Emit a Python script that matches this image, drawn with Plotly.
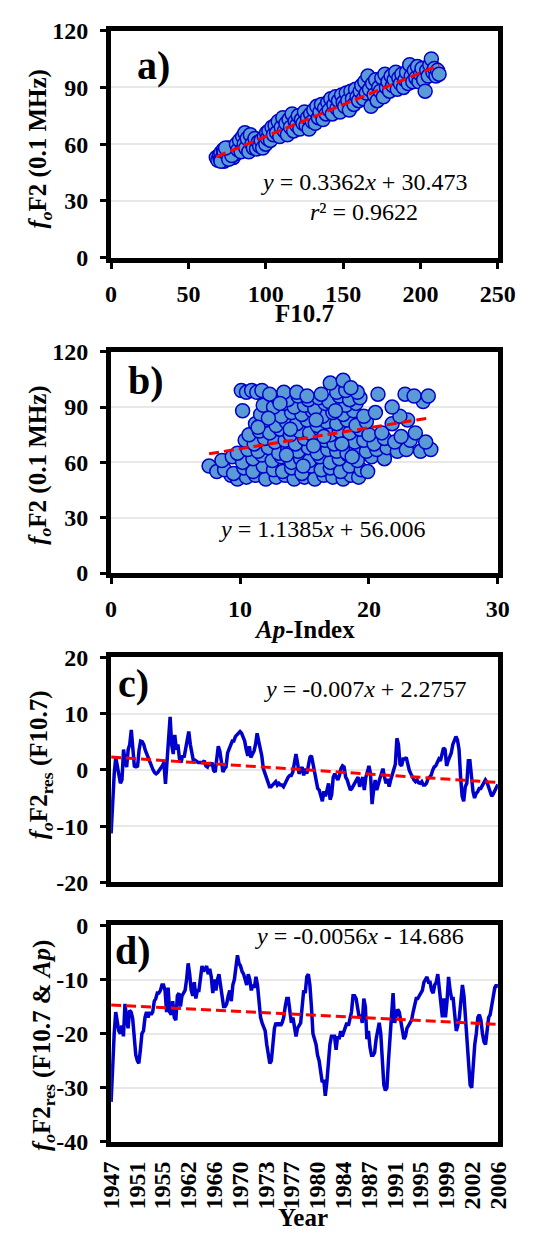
import numpy as np
import plotly.graph_objects as go

W, H = 547, 1241

# ---------------- data ----------------
# Panel a: F10.7 vs foF2
F107_A = [68, 69, 70, 70.5, 71, 72, 72.5, 73, 74, 75, 75.5, 76, 77, 78, 79, 80, 80.5,
          71, 73, 76, 78, 74,
          81, 82, 83, 84, 85, 86, 86.5, 87, 88, 89, 90, 91, 92, 93, 94, 95, 96, 97, 98, 99, 100, 100.5,
          101, 102, 103, 104, 105, 106, 107, 108, 109, 110, 111, 112, 113, 114, 115, 116, 117, 118, 119, 120,
          121, 122, 123, 124, 125, 126, 127, 128, 129, 130,
          131, 132, 133, 134, 135, 136, 137, 138, 139, 140, 141, 142, 143, 144, 145, 146, 147, 148, 149, 150,
          151, 152, 153, 154, 155, 156, 157, 158, 159, 160,
          161, 162, 163, 164, 165, 166, 167, 168, 169, 170, 171, 172, 173, 174, 175, 176, 177, 178, 179, 180,
          181, 182, 183, 184, 185, 186, 187, 188, 189, 190, 191, 192, 193, 194, 195, 196, 197, 198, 199, 200,
          201, 202, 203, 204, 205, 206, 207, 208, 209, 210, 211, 212]
FOF2_A = [53, 51.5, 54, 52, 55.5, 53, 57, 51, 54.5, 56, 52.5, 58, 54, 56.5, 53, 58, 55,
          51, 56, 52, 54, 58,
          60, 57, 62, 56, 64, 60, 66, 58, 63, 56, 65, 60, 58, 63, 57.5, 61, 59, 62, 58, 64, 60, 66,
          63, 67, 62, 69, 65, 70, 66, 72, 64, 69, 74, 67, 71, 65, 73, 69, 76, 67, 72, 70,
          75, 68, 73, 71, 77, 70, 74, 68, 76, 72,
          78, 71, 80, 74, 77, 81, 73, 79, 76, 82, 78, 84, 76, 81, 85, 79, 83, 77, 86, 82,
          80, 87, 83, 78, 88, 84, 81, 89, 85, 83,
          88, 91, 84, 93, 87, 96, 89, 80, 92, 86, 94, 83, 90, 88, 95, 85, 97, 90, 93, 88,
          96, 91, 94, 98, 89, 95, 92, 97, 90, 94, 98, 92, 102, 96, 93, 99, 95, 101, 93, 97,
          100, 94, 88, 99, 96, 102, 105, 98, 100, 96, 99, 97]

# Panel b: Ap-Index vs foF2
AP_B = [9.3, 9.8, 10.5, 11.2, 12.0, 12.8, 13.5, 14.2, 15.0, 15.8, 16.5, 17.2, 18.0, 18.6, 19.2,
        7.6, 8.2, 8.8, 9.5, 10.3, 11.0, 11.8, 12.6, 13.3, 14.0, 14.8, 15.5, 16.3, 17.0, 17.8, 18.5, 19.4, 19.9,
        8.6, 9.4, 10.2, 11.0, 11.7, 12.5, 13.2, 14.0, 14.7, 15.4, 16.2, 17.0, 17.7, 18.4, 19.1, 20.2, 21.2,
        9.8, 10.6, 11.4, 12.2, 13.0, 13.7, 14.5, 15.3, 16.0, 16.8, 17.5, 18.3, 19.0, 19.8, 20.6, 21.4, 22.2, 22.9, 24.0, 24.8,
        10.4, 11.1, 11.9, 12.7, 13.5, 14.3, 15.0, 15.8, 16.6, 17.3, 18.1, 18.9, 19.6, 20.4, 21.2, 22.0, 23.2, 24.4,
        10.7, 11.5, 12.3, 13.1, 13.9, 14.6, 15.4, 16.2, 17.0, 17.7, 18.5, 19.3, 20.0, 21.0, 22.5, 23.6,
        11.2, 12.0, 12.8, 13.6, 14.4, 15.2, 16.0, 16.7, 17.5, 18.3, 19.0, 19.8, 21.8, 23.0,
        11.6, 12.4, 13.2, 14.0, 14.8, 15.6, 16.4, 17.2, 18.0, 18.8, 19.6, 20.5, 22.4,
        10.2, 11.8, 12.6, 13.4, 14.2, 15.0, 15.8, 16.6, 17.4, 18.2, 19.0, 21.8,
        12.9, 13.7, 14.5, 15.3, 16.1, 16.9, 17.7, 18.5, 19.3, 24.2,
        10.1, 10.5, 10.9, 11.3, 11.7, 12.3, 13.4, 14.4, 15.2, 16.3, 17.5, 18.2, 19.1, 20.7, 22.8, 23.5, 24.6,
        17.0, 18.0, 18.6,
        12.2, 13.9, 15.7, 17.4, 14.9, 16.5, 13.1, 18.7, 11.4, 15.9, 17.9, 13.6]
FOF2_B = [53, 51, 52, 53, 51, 52, 53, 51, 52, 51, 53, 52, 51, 53, 52,
          58, 55, 56, 54, 57, 55, 58, 56, 55, 57, 54, 58, 56, 57, 55, 58, 56, 55,
          61, 63, 60, 62, 64, 61, 63, 60, 62, 61, 63, 60, 62, 64, 61, 63, 62,
          65, 67, 66, 68, 65, 67, 66, 68, 65, 67, 66, 65, 68, 66, 67, 68, 66, 67, 66, 67,
          72, 70, 73, 71, 72, 70, 73, 71, 72, 70, 73, 71, 72, 70, 73, 71, 72, 71,
          75, 77, 76, 78, 75, 77, 76, 78, 75, 77, 76, 78, 75, 76, 74, 76,
          81, 83, 80, 82, 81, 83, 80, 82, 81, 83, 80, 82, 81, 83,
          86, 88, 85, 87, 86, 88, 85, 87, 86, 88, 85, 87, 85,
          88, 91, 90, 92, 90, 91, 89, 92, 90, 91, 92, 90,
          95, 94, 96, 94, 95, 93, 96, 94, 95, 93,
          99, 98, 99, 98, 99, 97, 98, 98, 96, 97, 98, 99, 98, 97, 97, 96, 96,
          103, 104.5, 100.5,
          84, 78, 69, 88, 58, 74, 92, 63, 79, 83, 70, 64]

# Panel c: foF2 residual (F10.7), monthly series sampled along the record
RES_C = [-11.3, -4.7, -0.7, 2.2, 0.5, -1.5, -2.4, -1.8, 3.6, 1.6, 0.5, 3.6, 4.5, 7.1, 2.5, 0.5, 0.7, 0.5,
         3.5, 5.1, 5.0, 4.5, 3.5, 2.8, 1.8, 1.3, 0.8, 0.0, -0.5, -0.7, -0.5, -0.2, 0.3, 0.7, 1.3, -2.5,
         1.5, 6.5, 9.4, 4.5, 2.8, 6.2, 3.6, 4.5, 2.0, 1.3, 2.5, 2.2, 3.5, 5.5, 6.8, 4.5, 2.8, 1.6,
         1.7, 1.5, 1.3, 1.3, 1.3, 1.3, 1.6, 0.7, 0.5, 1.3, 0.7, 1.3, -0.1, -0.4, 1.9, 4.2, 3.3, 1.6,
         -0.4, 0.2, 0.5, 3.0, 3.6, 4.5, 5.1, 5.1, 5.9, 6.2, 6.5, 6.8, 6.5, 5.9, 5.1, 3.6, 2.5, 4.2,
         2.2, 2.8, 3.3, 4.5, 6.5, 5.1, 3.9, 2.5, 0.2, -0.7, -1.3, -2.1, -3.0, -3.0, -2.7, -2.4, -2.1,
         -2.7, -2.4, -2.7, -2.7, -3.0, -2.4, -1.8, -1.3, -1.0,
         -1.0, -0.4, 1.6, 2.8, 1.3, -0.7, -0.1, 0.5, -1.0, 0.2, -0.7, 1.0, 2.2, 2.5, 1.0, -0.7, -2.4,
         -3.3, -3.6, -4.4, -5.6, -3.8, -4.7, -3.6, -2.4, -5.3, -4.4, -1.3, -0.7, -1.3, -1.8, -1.0, 0.2,
         0.7, 0.5, -1.3, -1.8, -2.7, -3.6, -3.3, -2.7, -2.4, -1.8, -1.3, -3.0, -2.1, -1.3, -3.6, -1.3,
         -0.4, 0.7, -0.7, -6.1, -3.6, -1.8, -3.6, -2.4, -1.6, -0.7, 0.2, -1.3, -2.4, -1.6, -3.0, -1.8,
         -1.0, -0.1, 1.0, 5.6, 4.5, 1.0, 0.7, 1.9, 1.9, 2.2, 0.7, -0.1, -0.7, -1.3, -1.8, -2.1, -1.8,
         -2.3, -2.4, -2.1, -2.7, -2.7, -2.4, -1.6, -1.3, -1.0, -0.1, 0.5, 0.7, 1.3, 1.9, 1.6, 3.0,
         3.9, 3.6, 0.7, 1.6, 2.2, 3.0, 4.5, 5.3, 5.9, 5.3, 3.6, -1.3, -4.7, -5.6, -3.0, -2.4, 1.6,
         1.6, -1.3, -3.9, -5.0, -4.2, -3.9, -3.3, -3.3, -2.7, -2.4, -1.8,
         -2.2, -3.0, -4.0, -4.7, -4.3, -3.6, -3.0, -2.6]

# Panel d: foF2 residual (F10.7 & Ap)
RES_D = [-32.6, -24.5, -20, -16, -17.8, -19.5, -20, -18.5, -20.5, -14.5, -17, -19, -15.7, -16, -17.2,
         -20.2, -23.9, -25, -25.5, -23, -20, -19.5, -17, -16, -17, -16, -16.5, -16, -14, -13.5, -12.5,
         -12.5, -12, -11, -11, -12, -16, -11.5, -16, -16.5, -14, -17, -17.5, -13, -12.5, -15, -13,
         -12.5, -12, -10, -7, -9, -12, -13, -10.5, -13.5, -12, -12, -9.5, -7.5, -8.5, -8, -7.5, -9,
         -8, -9.5, -12.5, -10, -12, -10, -9, -11, -13, -15, -15, -14.5, -13, -12, -14, -11, -10, -7,
         -5.5, -7, -7.5, -8.5, -9, -10, -11, -9, -10, -12, -11, -11.5, -9.5, -11, -15, -17, -18, -19,
         -19.5, -22, -24, -25.5, -25, -22, -19, -18, -18.5, -18, -18.5, -18, -17, -15, -13.5,
         -13.5, -16, -18, -17, -19, -20.5, -19, -18.5, -18, -15, -12, -12.5, -9.5, -9, -11, -15, -20,
         -21, -22, -24, -25, -27, -29, -28.5, -31.5, -29, -25, -22, -20.5, -20.5, -20.5, -23, -20.5,
         -21, -19.5, -20.5, -19.5, -19, -18, -18.5, -17.5, -16, -13, -13, -13.5, -15, -17, -16.5, -18,
         -13.5, -15, -21, -19.5, -22.5, -24, -24, -23.5, -21, -19, -18, -20, -26, -29.5, -30.5, -30,
         -25, -20, -15, -12.5, -18, -16.5, -15.5, -16, -17.5, -19.5, -21, -20.5, -19, -18.5, -18,
         -17.5, -16, -15, -13.5, -13.5, -13, -12.5, -12, -10.5, -10, -9.5, -10.5, -10.5, -12, -12.5,
         -11, -10.5, -9, -12, -14, -17, -13.5, -17, -14, -9.5, -12, -13.5, -13.5, -17, -19.5, -18.5,
         -17, -14, -11, -13, -17, -22, -26, -29.5, -30, -25, -22, -20, -17, -16.5, -17.5, -20,
         -21.5, -22, -19, -17, -16.5, -15, -13, -11.5, -11, -11.5]

N_MONTHS = 646
TICK_YEARS = ["1947", "1951", "1955", "1962", "1966", "1970", "1973", "1977",
              "1980", "1984", "1987", "1991", "1995", "1999", "2002", "2006"]
TICK_STEP = 43
# y tick values/labels for the residual panels (hyphen-minus as in the source)
YTICKS_C = [-20, -10, 0, 10, 20]
YLABELS_C = ["-20", "-10", "0", "10", "20"]
YTICKS_D = [-40, -30, -20, -10, 0]
YLABELS_D = ["-40", "-30", "-20", "-10", "0"]

# trend line coefficients (slope, intercept) shown on the chart
TREND_A = (0.3362, 30.473)
TREND_B = (1.1385, 56.006)
TREND_C = (-0.007, 2.2757)
TREND_D = (-0.0056, -14.686)

# ---------------- figure ----------------
SERIF = "Liberation Serif"
MK = dict(size=14, color="#5b9bd5", line=dict(color="#0000cc", width=1.5))
TREND_LINE = dict(color="#ff0000", width=3, dash="10px,5px")
BLUE_LINE = dict(color="#0000cc", width=3.5)

fig = go.Figure()

# a
fig.add_trace(go.Scatter(x=F107_A, y=FOF2_A, mode="markers", marker=MK, xaxis="x", yaxis="y"))
xa = np.array([min(F107_A), max(F107_A)], dtype=float)
fig.add_trace(go.Scatter(x=xa, y=TREND_A[0] * xa + TREND_A[1], mode="lines", line=TREND_LINE,
                         xaxis="x", yaxis="y"))
# b
fig.add_trace(go.Scatter(x=AP_B, y=FOF2_B, mode="markers", marker=MK, xaxis="x2", yaxis="y2"))
xb = np.array([min(AP_B), max(AP_B)], dtype=float)
fig.add_trace(go.Scatter(x=xb, y=TREND_B[0] * xb + TREND_B[1], mode="lines", line=TREND_LINE,
                         xaxis="x2", yaxis="y2"))
# c
idx_c = np.linspace(1, N_MONTHS, len(RES_C))
fig.add_trace(go.Scatter(x=idx_c, y=RES_C, mode="lines", line=BLUE_LINE, xaxis="x3", yaxis="y3"))
xt = np.array([1, N_MONTHS], dtype=float)
fig.add_trace(go.Scatter(x=xt, y=TREND_C[0] * xt + TREND_C[1], mode="lines", line=TREND_LINE,
                         xaxis="x3", yaxis="y3"))
# d
idx_d = np.linspace(1, N_MONTHS, len(RES_D))
fig.add_trace(go.Scatter(x=idx_d, y=RES_D, mode="lines", line=BLUE_LINE, xaxis="x4", yaxis="y4"))
fig.add_trace(go.Scatter(x=xt, y=TREND_D[0] * xt + TREND_D[1], mode="lines", line=TREND_LINE,
                         xaxis="x4", yaxis="y4"))

X0, X1 = 104, 514
FRAMES = {"a": (18, 250), "b": (346, 572), "c": (658, 888), "d": (932, 1153)}


def ydom(p):
    t, b = FRAMES[p]
    return [1 - b / H, 1 - t / H]


TICKFONT = dict(family=SERIF, size=24, color="black", weight="bold")
base = dict(showline=True, linewidth=5, linecolor="black", mirror=True, ticks="outside",
            ticklen=6, tickwidth=3, tickcolor="black", tickfont=TICKFONT, zeroline=False,
            fixedrange=True, domain=[X0 / W, X1 / W], ticklabelstandoff=4)
ybase = dict(showline=True, linewidth=5, linecolor="black", mirror=True, ticks="outside",
             ticklen=6, tickwidth=3, tickcolor="black", tickfont=TICKFONT, zeroline=False,
             fixedrange=True, showgrid=True, gridcolor="#e8e8e8", gridwidth=1.5,
             ticklabelstandoff=7)

layout = dict(
    width=W, height=H, margin=dict(l=0, r=0, t=0, b=0), showlegend=False,
    paper_bgcolor="white", plot_bgcolor="white",
    xaxis=dict(base, range=[0, 250], dtick=50, showgrid=False, anchor="y"),
    yaxis=dict(ybase, range=[0, 120], dtick=30, domain=ydom("a"), anchor="x"),
    xaxis2=dict(base, range=[0, 30], dtick=10, showgrid=False, anchor="y2"),
    yaxis2=dict(ybase, range=[0, 120], dtick=30, domain=ydom("b"), anchor="x2"),
    xaxis3=dict(base, range=[1, N_MONTHS], showgrid=False, showticklabels=False, ticks="",
                anchor="y3"),
    yaxis3=dict(ybase, range=[-20, 20], tickmode="array", tickvals=YTICKS_C,
                ticktext=YLABELS_C, domain=ydom("c"), anchor="x3"),
    xaxis4=dict(base, range=[1, N_MONTHS], showgrid=False, ticks="", anchor="y4",
                tickmode="array", tickvals=[1 + TICK_STEP * i for i in range(len(TICK_YEARS))],
                ticktext=TICK_YEARS, tickangle=-90),
    yaxis4=dict(ybase, range=[-40, 0], tickmode="array", tickvals=YTICKS_D,
                ticktext=YLABELS_D, domain=ydom("d"), anchor="x4"),
)
fig.update_layout(**layout)
fig.update_layout(xaxis4=dict(ticklabelstandoff=5))


def ann(text, px, py, size=24, bold=True, angle=0):
    fig.add_annotation(text=text, x=px / W, y=1 - py / H, xref="paper", yref="paper",
                       showarrow=False, textangle=angle, xanchor="center", yanchor="middle",
                       font=dict(family=SERIF, size=size, color="black",
                                 weight="bold" if bold else "normal"))


# panel letters
ann("a)", 149, 54, size=40)
ann("b)", 141, 375, size=40)
ann("c)", 128, 685, size=40)
ann("d)", 127, 958, size=40)
# equations
ann("<i>y</i> = 0.3362<i>x</i> + 30.473", 372, 173, bold=False)
ann("<i>r</i>² = 0.9622", 372, 203, bold=False)
ann("<i>y</i> = 1.1385<i>x</i> + 56.006", 328, 527, bold=False)
ann("<i>y</i> = -0.007<i>x</i> + 2.2757", 373, 690, bold=False)
ann("<i>y</i> = -0.0056<i>x</i> - 14.686", 367, 943, bold=False)
# axis titles
ann("F10.7", 309, 307, size=25)
ann("<i>Ap</i>-Index", 309, 630, size=25)
ann("Year", 307, 1230, size=25)
ann("<i>f</i><sub><i>o</i></sub>F2 (0.1 MHz)", 28, 139, size=25, angle=-90)
ann("<i>f</i><sub><i>o</i></sub>F2 (0.1 MHz)", 28, 462, size=25, angle=-90)
ann("<i>f</i><sub><i>o</i></sub>F2<sub>res</sub> (F10.7)", 30, 768, size=25, angle=-90)
ann("<i>f</i><sub><i>o</i></sub>F2<sub>res</sub> (F10.7 &amp; <i>Ap</i>)", 33, 1055, size=25, angle=-90)

fig.write_html("out.html", config={"displayModeBar": False},
               post_script="document.body.style.margin='0';document.body.style.overflow='hidden';")
